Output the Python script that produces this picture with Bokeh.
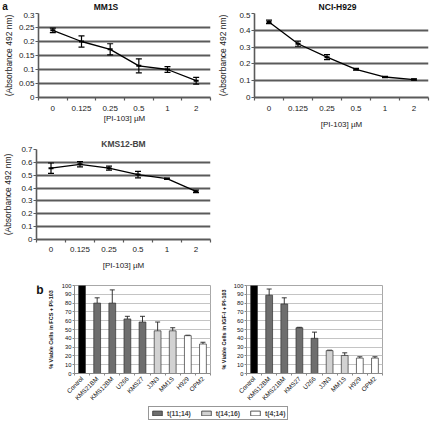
import math
from bokeh.plotting import figure
from bokeh.models import (ColumnDataSource, Whisker, TeeHead, FixedTicker, PrintfTickFormatter,
                          Label, Legend, LegendItem, Range1d, Spacer)
from bokeh.layouts import column, row
from bokeh.embed import file_html
from bokeh.resources import INLINE

FONT = "Liberation Sans"

# ---------------- data ----------------
doses = ["0", "0.125", "0.25", "0.5", "1", "2"]
mm1s_mean = [0.240, 0.200, 0.172, 0.113, 0.100, 0.060]
mm1s_err = [0.008, 0.020, 0.020, 0.025, 0.010, 0.012]
h929_mean = [0.450, 0.320, 0.240, 0.168, 0.122, 0.107]
h929_err = [0.010, 0.015, 0.015, 0.005, 0.004, 0.004]
kms12_mean = [0.555, 0.585, 0.555, 0.505, 0.473, 0.375]
kms12_err = [0.040, 0.020, 0.015, 0.025, 0.005, 0.010]

fcs_lines = ["Control", "KMS21BM", "KMS12BM", "U266", "KMS27", "JJN3", "MM1S", "H929", "OPM2"]
fcs_values = [100, 80, 80, 62, 58.5, 48.5, 48.5, 43, 33.5]
fcs_err = [0, 6, 15, 3, 6.5, 10, 3.5, 0.5, 2]
fcs_group = ["control", "t(11;14)", "t(11;14)", "t(11;14)", "t(11;14)",
             "t(14;16)", "t(14;16)", "t(4;14)", "t(4;14)"]

igf_lines = ["Control", "KMS12BM", "KMS21BM", "KMS27", "U266", "JJN3", "MM1S", "H929", "OPM2"]
igf_values = [100, 89, 79, 52, 40, 26, 20.5, 17.5, 17.5]
igf_err = [0, 7, 7, 0.5, 7, 0.5, 3, 1.5, 1.5]
igf_group = ["control", "t(11;14)", "t(11;14)", "t(11;14)", "t(11;14)",
             "t(14;16)", "t(14;16)", "t(4;14)", "t(4;14)"]

legend_groups = ["t(11;14)", "t(14;16)", "t(4;14)"]

GROUP_COLOR = {"control": "#000000", "t(11;14)": "#6e6e6e", "t(14;16)": "#d2d2d2", "t(4;14)": "#ffffff"}
GRID_DARK = "#5a5a5a"


def blank(width, height, **kw):
    f = figure(width=width, height=height, x_range=Range1d(0, 1), y_range=Range1d(0, 1),
               x_axis_location=None, y_axis_location=None,
               output_backend="svg", toolbar_location=None, **kw)
    f.outline_line_color = None
    f.grid.visible = False
    return f


def text_label(x, y, text, size):
    # x, y in screen pixels from the strip frame's bottom-left corner
    return Label(x=x, y=y, x_units="screen", y_units="screen", text=text,
                 text_font=FONT, text_font_size=size,
                 text_font_style="bold", text_align="center", text_baseline="middle",
                 text_color="#111111")


def line_chart(title, means, errs, ymax, ystep, width, height, bl, br, bt, bb,
               ylab_standoff, xlab_standoff, xtick_standoff):
    xs = list(range(len(doses)))
    p = figure(width=width, height=height, x_range=Range1d(-0.5, len(doses) - 0.5),
               y_range=Range1d(0, ymax), output_backend="svg", toolbar_location=None,
               min_border_left=bl, min_border_right=br, min_border_top=bt, min_border_bottom=bb)
    p.outline_line_color = None
    if title:
        p.title.text = title
        p.title.align = "center"
        p.title.vertical_align = "bottom"
        p.title.text_font = FONT
        p.title.text_font_size = "8.5px"
        p.title.text_font_style = "bold"
        p.title.standoff = 2
        p.title.offset = 0
    src = ColumnDataSource(dict(x=xs, y=means,
                                upper=[m + e for m, e in zip(means, errs)],
                                lower=[m - e for m, e in zip(means, errs)]))
    p.line("x", "y", source=src, line_color="black", line_width=1.3)
    p.scatter("x", "y", source=src, marker="dash", size=5, line_color="black", line_width=2)
    p.add_layout(Whisker(base="x", upper="upper", lower="lower", source=src,
                         line_color="black", line_width=1.2,
                         upper_head=TeeHead(size=6, line_color="black", line_width=1.2),
                         lower_head=TeeHead(size=6, line_color="black", line_width=1.2)))
    nt = int(round(ymax / ystep))
    yticks = [round(i * ystep, 4) for i in range(nt + 1)]
    p.xgrid.visible = False
    p.ygrid.ticker = FixedTicker(ticks=yticks)
    p.ygrid.grid_line_color = GRID_DARK
    p.ygrid.grid_line_width = 1.8
    xa = p.xaxis[0]
    xa.ticker = FixedTicker(ticks=xs, minor_ticks=[i - 0.5 for i in range(len(doses) + 1)])
    xa.major_label_overrides = {i: d for i, d in zip(xs, doses)}
    xa.major_tick_out = 0
    xa.major_tick_in = 0
    xa.minor_tick_out = 3
    xa.minor_tick_in = 0
    xa.axis_line_color = GRID_DARK
    xa.axis_line_width = 1.8
    xa.minor_tick_line_color = GRID_DARK
    xa.minor_tick_line_width = 1.2
    xa.major_label_standoff = xtick_standoff
    xa.axis_label = "[PI-103] \u00b5M"
    xa.axis_label_standoff = xlab_standoff
    ya = p.yaxis[0]
    ya.ticker = FixedTicker(ticks=yticks)
    ya.formatter = PrintfTickFormatter(format="%g")
    ya.major_tick_out = 3
    ya.major_tick_in = 0
    ya.minor_tick_out = 0
    ya.minor_tick_in = 0
    ya.axis_line_color = GRID_DARK
    ya.axis_line_width = 1.6
    ya.major_tick_line_color = GRID_DARK
    ya.major_tick_line_width = 1.2
    ya.major_label_standoff = 1
    ya.axis_label = "(Absorbance 492 nm)"
    ya.axis_label_standoff = ylab_standoff
    for ax in (xa, ya):
        ax.major_label_text_font = FONT
        ax.major_label_text_font_size = "8px"
        ax.major_label_text_color = "#222222"
        ax.axis_label_text_font = FONT
        ax.axis_label_text_font_size = "8px"
        ax.axis_label_text_font_style = "normal"
        ax.axis_label_text_color = "#222222"
    ya.axis_label_text_font_size = "8.5px"
    return p


def bar_chart(lines, values, errs, groups, ylabel, width, height, bl, br, bt, bb, ylab_standoff):
    xs = list(range(len(lines)))
    src = ColumnDataSource(dict(x=xs, top=values, color=[GROUP_COLOR[g] for g in groups]))
    p = figure(width=width, height=height, x_range=Range1d(-0.5, len(lines) - 0.5),
               y_range=Range1d(0, 100), output_backend="svg", toolbar_location=None,
               min_border_left=bl, min_border_right=br, min_border_top=bt, min_border_bottom=bb)
    p.outline_line_color = "#a8a8a8"
    p.outline_line_width = 1
    p.vbar(x="x", top="top", width=0.45, source=src, fill_color="color",
           line_color="#303030", line_width=0.7)
    ex = [x for x, e in zip(xs, errs) if e > 0]
    ev = [v for v, e in zip(values, errs) if e > 0]
    ee = [e for e in errs if e > 0]
    esrc = ColumnDataSource(dict(x=ex, upper=[v + e for v, e in zip(ev, ee)],
                                 lower=[v - e for v, e in zip(ev, ee)]))
    p.add_layout(Whisker(base="x", upper="upper", lower="lower", source=esrc,
                         line_color="#222222", line_width=0.9,
                         upper_head=TeeHead(size=5, line_color="#222222", line_width=0.9),
                         lower_head=TeeHead(size=5, line_color="#222222", line_width=0.9)))
    yticks = list(range(0, 101, 10))
    p.xgrid.visible = False
    p.ygrid.ticker = FixedTicker(ticks=yticks)
    p.ygrid.grid_line_color = "#c4c4c4"
    p.ygrid.grid_line_width = 1
    xa = p.xaxis[0]
    xa.ticker = FixedTicker(ticks=xs, minor_ticks=[i - 0.5 for i in range(len(lines) + 1)])
    xa.major_label_overrides = {i: n for i, n in zip(xs, lines)}
    xa.major_label_orientation = math.pi / 4
    xa.major_tick_out = 0
    xa.major_tick_in = 0
    xa.minor_tick_out = 2
    xa.minor_tick_in = 0
    xa.major_label_standoff = 2
    ya = p.yaxis[0]
    ya.ticker = FixedTicker(ticks=yticks)
    ya.major_tick_out = 2
    ya.major_tick_in = 0
    ya.minor_tick_out = 0
    ya.minor_tick_in = 0
    ya.major_label_standoff = 1
    ya.axis_label = ylabel
    ya.axis_label_standoff = ylab_standoff
    for ax in (xa, ya):
        ax.axis_line_color = "#8a8a8a"
        ax.major_tick_line_color = "#8a8a8a"
        ax.minor_tick_line_color = "#8a8a8a"
        ax.major_label_text_font = FONT
        ax.major_label_text_color = "#111111"
        ax.axis_label_text_font = FONT
    xa.major_label_text_font_size = "6.3px"
    ya.major_label_text_font_size = "5.8px"
    ya.axis_label_text_font_size = "5.5px"
    ya.axis_label_text_font_style = "bold"
    ya.axis_label_text_color = "#111111"
    return p


# header strip for panel a: panel letter and the two chart titles
HEAD_H = 12
head = blank(431, HEAD_H, min_border=0)
head.add_layout(text_label(4.5, HEAD_H - 6, "a", "10px"))
head.add_layout(text_label(105.5, HEAD_H - 6, "MM1S", "8.5px"))
head.add_layout(text_label(337, HEAD_H - 6, "NCI-H929", "8.5px"))

a1 = line_chart(None, mm1s_mean, mm1s_err, 0.3, 0.05, 215, 119, 32, 5, 0, 32,
                ylab_standoff=2, xlab_standoff=0, xtick_standoff=5)
a2 = line_chart(None, h929_mean, h929_err, 0.5, 0.1, 216, 119, 38, 3, 1, 32,
                ylab_standoff=8, xlab_standoff=6, xtick_standoff=5)
a3 = line_chart("KMS12-BM", kms12_mean, kms12_err, 0.7, 0.1, 215, 141, 32, 5, 18, 32,
                ylab_standoff=5, xlab_standoff=6, xtick_standoff=4)

# side strip carrying the panel letter b; its frame shares the bar charts' top and bottom
ROW3_H, ROW3_TOP, ROW3_BOTTOM = 134, 13, 32
bcol = blank(44, ROW3_H, min_border_left=0, min_border_right=0,
             min_border_top=ROW3_TOP, min_border_bottom=ROW3_BOTTOM)
bcol.add_layout(text_label(39.5, ROW3_H - ROW3_TOP - ROW3_BOTTOM - 5, "b", "12px"))

b1 = bar_chart(fcs_lines, fcs_values, fcs_err, fcs_group, "% Viable Cells in FCS + PI-103",
               171, ROW3_H, 25, 5, ROW3_TOP, ROW3_BOTTOM, ylab_standoff=5)
b2 = bar_chart(igf_lines, igf_values, igf_err, igf_group, "% Viable Cells in IGF-I + PI-103",
               216, ROW3_H, 31, 49, ROW3_TOP, ROW3_BOTTOM, ylab_standoff=4)

# legend strip
lg = blank(431, 17, min_border=0)
items = []
for g in legend_groups:
    # swatch renderers: bars kept below the visible range of this strip
    r = lg.vbar(x="x", top="top", bottom="bottom", width=0.01,
                source=ColumnDataSource(dict(x=[0.5], top=[-1], bottom=[-2])),
                fill_color=GROUP_COLOR[g], line_color="#303030", line_width=0.8)
    items.append(LegendItem(label=g, renderers=[r]))
leg = Legend(items=items, orientation="horizontal", location=(148, 3),
             label_text_font=FONT, label_text_font_size="6.8px", label_text_font_style="bold",
             label_height=8, glyph_height=6, glyph_width=12, label_standoff=4, spacing=9,
             padding=2, margin=0, border_line_color="#303030", border_line_width=1)
lg.add_layout(leg)

layout = column(
    head,
    row(a1, a2),
    row(a3, Spacer(width=216, height=141)),
    row(bcol, b1, b2),
    lg,
)

open("out.html", "w").write(file_html(layout, INLINE))
